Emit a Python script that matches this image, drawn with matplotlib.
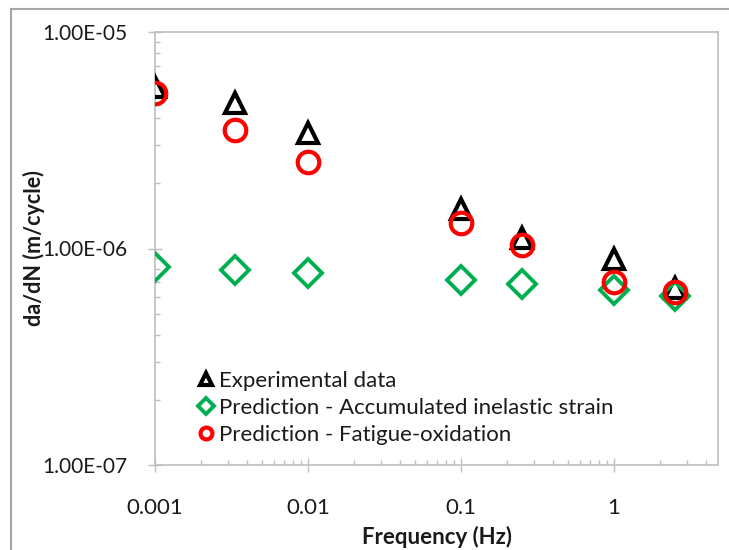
import matplotlib
matplotlib.use("Agg")
import matplotlib.pyplot as plt
from matplotlib.ticker import LogLocator, FixedLocator, FuncFormatter, NullFormatter
from matplotlib.lines import Line2D

plt.rcParams['font.family'] = ['Lato', 'DejaVu Sans']

freq = [0.001, 0.00333, 0.01, 0.1, 0.25, 1.0, 2.5]
exp_data = [5.55e-6, 4.7e-6, 3.4e-6, 1.53e-6, 1.12e-6, 8.9e-7, 6.6e-7]
pred_strain = [8.2e-7, 7.95e-7, 7.7e-7, 7.15e-7, 6.85e-7, 6.45e-7, 6.05e-7]
pred_fatox = [5.25e-6, 3.52e-6, 2.52e-6, 1.31e-6, 1.04e-6, 7.0e-7, 6.3e-7]

x_ticks = [0.001, 0.01, 0.1, 1]
x_tick_labels = ['0.001', '0.01', '0.1', '1']
y_ticks = [1e-7, 1e-6, 1e-5]
y_tick_labels = ['1.00E-07', '1.00E-06', '1.00E-05']

W, H = 729, 550
fig = plt.figure(figsize=(W / 100, H / 100), dpi=100)
ax = fig.add_axes([155 / W, 1 - 465 / H, (718 - 155) / W, (465 - 32) / H])

green = '#00B050'
red = '#FF0000'
ax.plot(freq, exp_data, linestyle='none', marker='^', markersize=15, markerfacecolor='none',
        markeredgecolor='black', markeredgewidth=3, label='Experimental data', zorder=3)
ax.plot(freq, pred_strain, linestyle='none', marker='D', markersize=14, markerfacecolor='none',
        markeredgecolor=green, markeredgewidth=2.8, label='Prediction - Accumulated inelastic strain', zorder=4)
ax.plot(freq, pred_fatox, linestyle='none', marker='o', markersize=15.5, markerfacecolor='none',
        markeredgecolor=red, markeredgewidth=3, label='Prediction - Fatigue-oxidation', zorder=5)

ax.set_xscale('log')
ax.set_yscale('log')
ax.set_xlim(0.001, 4.79)
ax.set_ylim(1e-7, 1e-5)

axis_gray = '#BFBFBF'
for s in ['left', 'bottom', 'top', 'right']:
    ax.spines[s].set_color(axis_gray)
    ax.spines[s].set_linewidth(1.2)

ax.xaxis.set_major_locator(FixedLocator(x_ticks))
ax.xaxis.set_major_formatter(FuncFormatter(lambda v, p: x_tick_labels[x_ticks.index(min(x_ticks, key=lambda t: abs(t - v)))]))
ax.xaxis.set_minor_locator(LogLocator(base=10, subs=range(2, 10), numticks=20))
ax.xaxis.set_minor_formatter(NullFormatter())
ax.yaxis.set_major_locator(FixedLocator(y_ticks))
ax.yaxis.set_major_formatter(FuncFormatter(lambda v, p: y_tick_labels[y_ticks.index(min(y_ticks, key=lambda t: abs(t - v)))]))
ax.yaxis.set_minor_locator(LogLocator(base=10, subs=range(2, 10), numticks=20))
ax.yaxis.set_minor_formatter(NullFormatter())

ax.tick_params(axis='both', which='major', direction='inout', length=9.5, width=1.0,
               color=axis_gray, labelsize=16, labelcolor='#1a1a1a')
ax.tick_params(axis='both', which='minor', direction='in', length=3.8, width=1.0, color=axis_gray)
ax.tick_params(axis='x', which='major', pad=19)
ax.tick_params(axis='y', which='major', pad=15, labelsize=15)

ax.set_xlabel('Frequency (Hz)', fontsize=16, fontweight='bold', color='#1a1a1a')
ax.set_ylabel('da/dN (m/cycle)', fontsize=15.5, fontweight='bold', color='#1a1a1a')
ax.xaxis.set_label_coords(0.5, -0.14)
ax.yaxis.set_label_coords(-0.196, 0.5)

leg = ax.legend(loc='upper left', bbox_to_anchor=(0.077, 0.218), frameon=False, fontsize=16,
                markerscale=0.55, handlelength=0.7, handletextpad=0.25, labelspacing=0.32,
                borderaxespad=0, borderpad=0)
for t in leg.get_texts():
    t.set_color('#1a1a1a')

# outer chart border
fig.add_artist(Line2D([11 / W, 11 / W], [0, 1 - 9 / H], transform=fig.transFigure, color='#A6A6A6', lw=1.5))
fig.add_artist(Line2D([11 / W, 1], [1 - 9 / H, 1 - 9 / H], transform=fig.transFigure, color='#A6A6A6', lw=1.5))

fig.savefig('out.png', dpi=100)
